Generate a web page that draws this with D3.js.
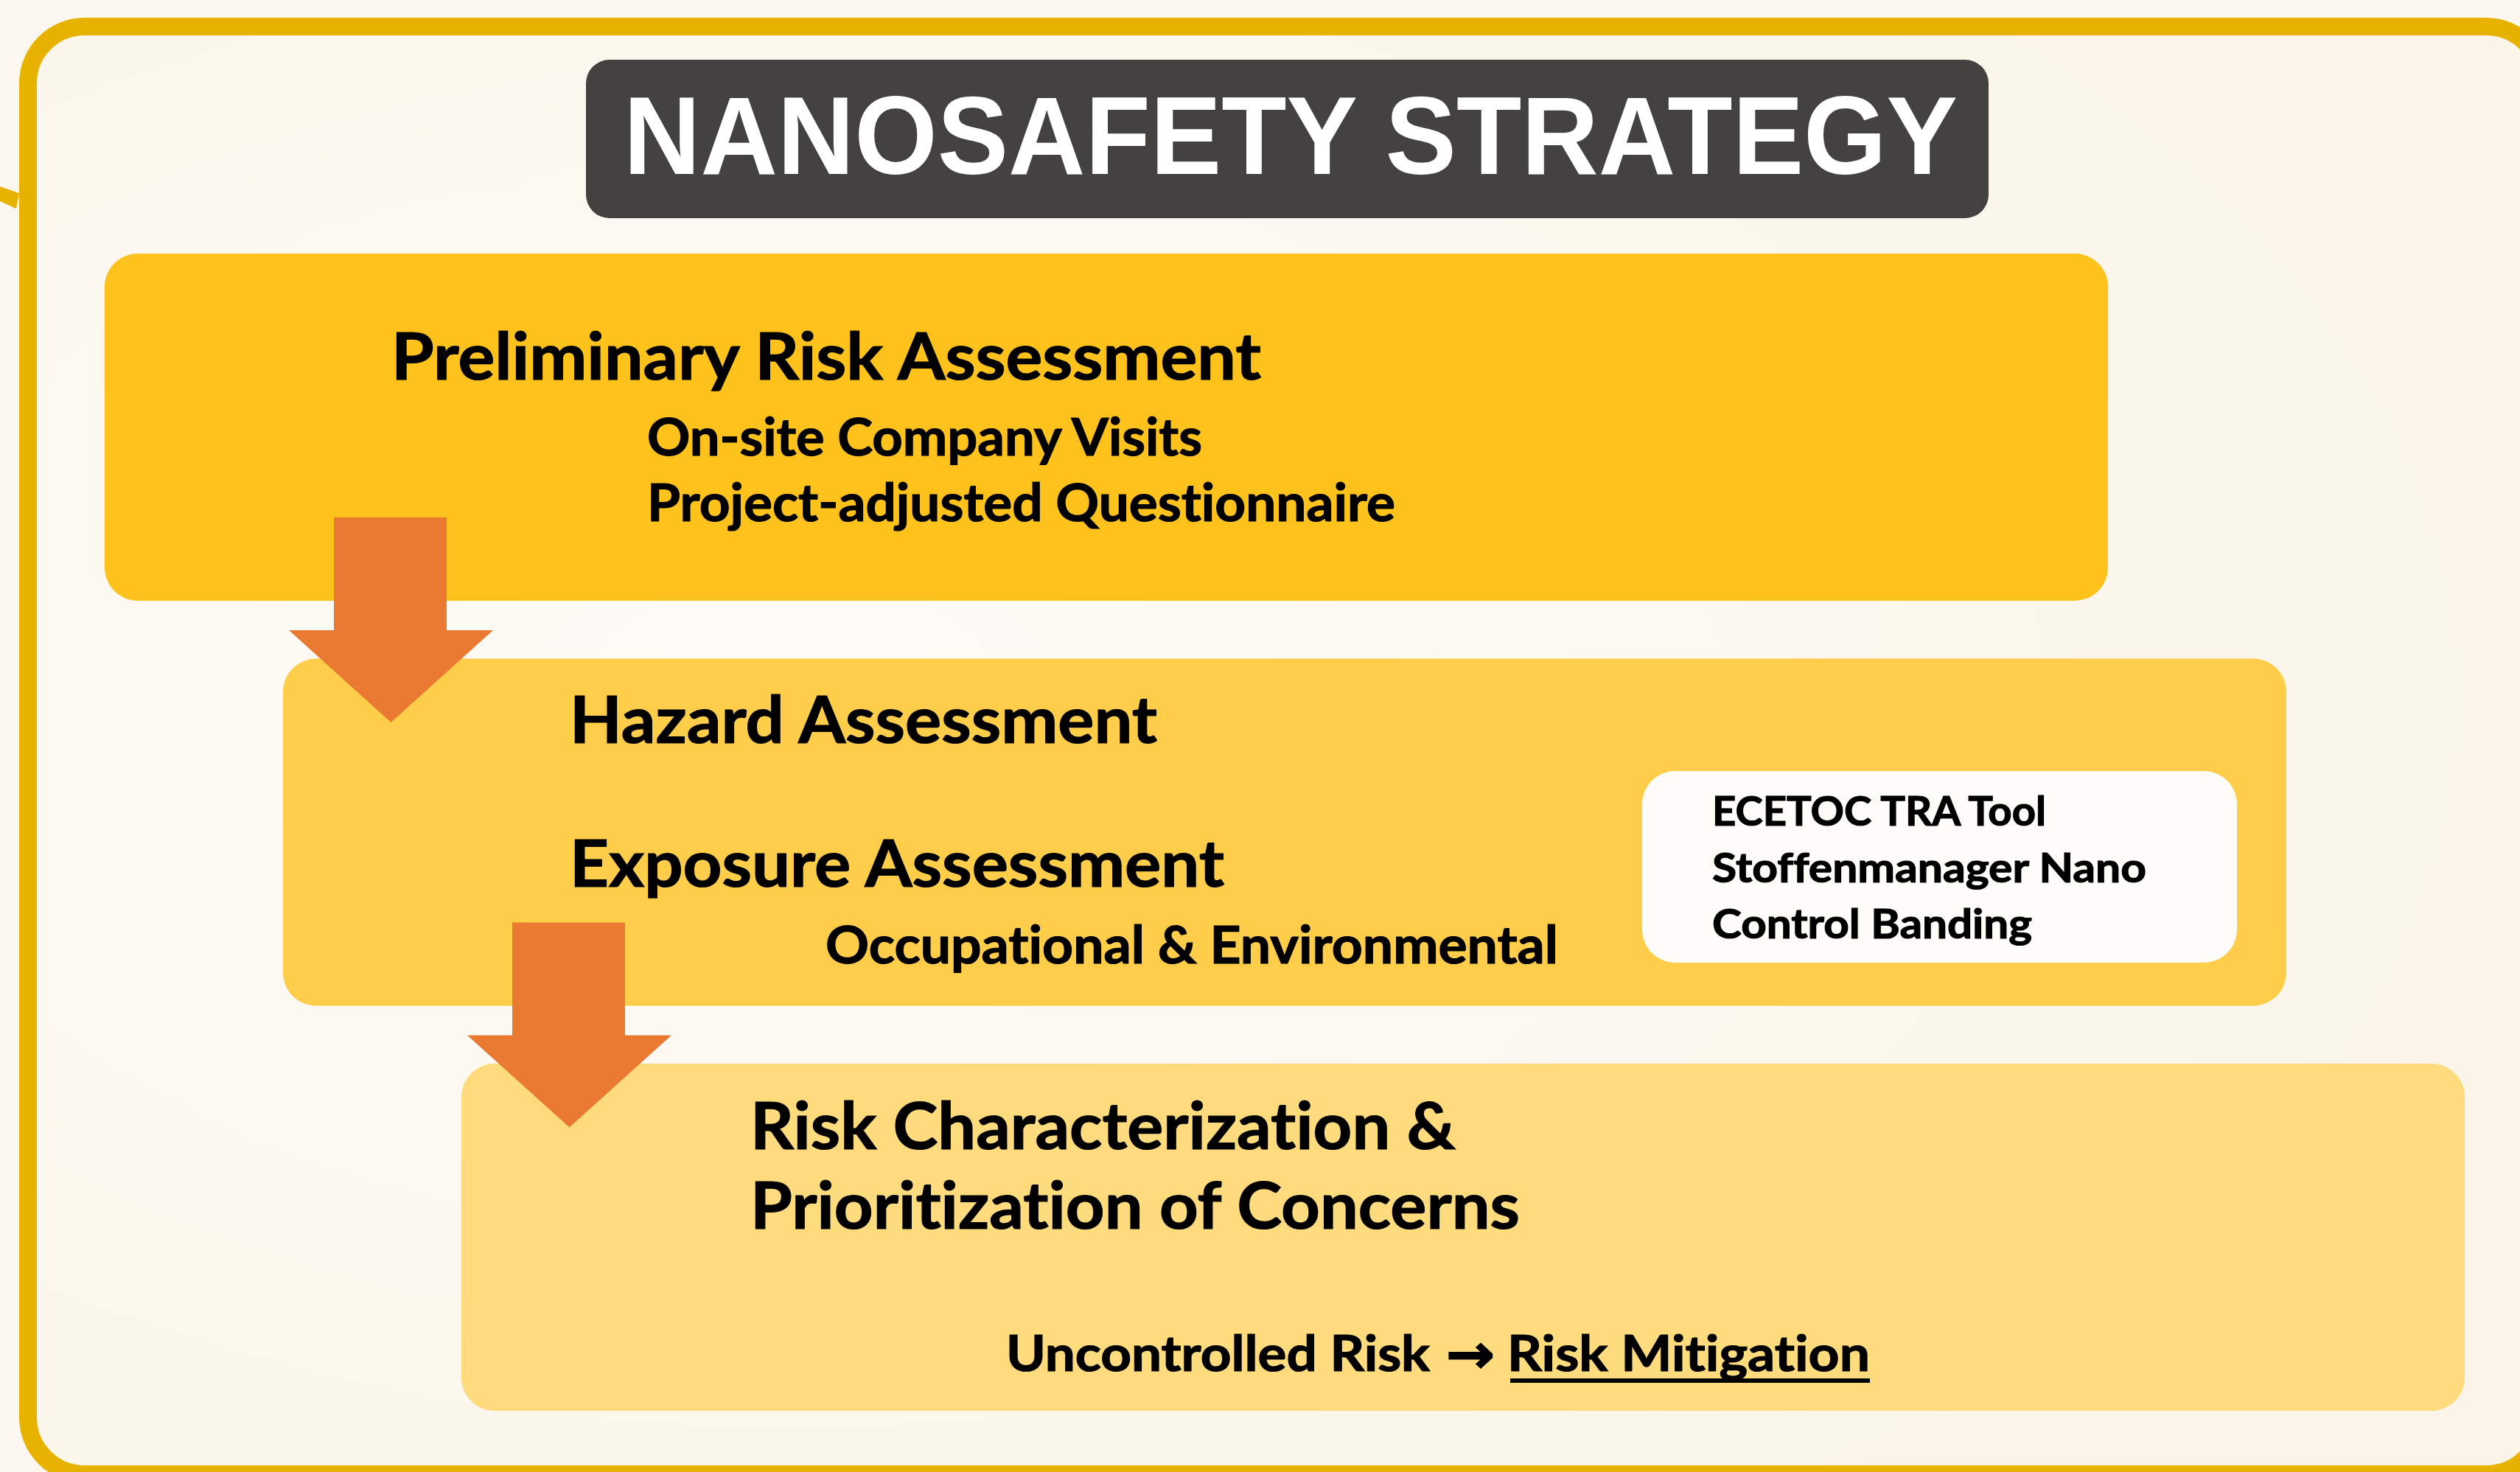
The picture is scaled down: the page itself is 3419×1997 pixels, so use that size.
<!DOCTYPE html>
<html><head><meta charset="utf-8">
<script src="https://cdn.jsdelivr.net/npm/d3@7"></script>
<style>
html,body{margin:0;padding:0;background:#fcf8ef;overflow:hidden}
text{font-variant-ligatures:none;font-feature-settings:"liga" 0,"clig" 0;}
</style>
</head><body>
<script>
// ---------- DATA ----------
const titleText = ["NANOSAFETY STRATEGY"];
const stageHeadings = [
  ["Preliminary Risk Assessment"],
  ["Hazard Assessment", "Exposure Assessment"],
  ["Risk Characterization &", "Prioritization of Concerns"]
];
const stageDetails = [
  ["On-site Company Visits", "Project-adjusted Questionnaire"],
  ["Occupational & Environmental"],
  []
];
const toolItems = ["ECETOC TRA Tool", "Stoffenmanager Nano", "Control Banding"];
const outcomeFrom = ["Uncontrolled Risk"];
const outcomeArrow = ["\u2192"];
const outcomeTo = ["Risk Mitigation"];

// ---------- STYLE / LAYOUT ----------
const W = 3419, H = 1997;
const stageColors = ["#fec21c", "#fecd4a", "#fedc7e"];
const FONT = "Lato, 'Open Sans', 'Noto Sans', sans-serif";
const stageIdx = d3.range(stageHeadings.length);
const xStage = d3.scaleLinear().domain([0, 2]).range([142, 626]);
const yStage = d3.scaleLinear().domain([0, 2]).range([344, 1443]);
const boxW = 2718, boxH = 471, boxR = 45;
const headingLayout = [
  {x: 389, y: [171], w: [1180]},
  {x: 389, y: [114, 309], w: [797, 888]},
  {x: 392, y: [116, 224], w: [957, 1044]}
];
const detailLayout = [
  {x: 736, y: [274, 363], w: [753, 1015]},
  {x: 736, y: [413], w: [994]},
  {x: 0, y: [], w: []}
];
const toolLayout = {box: [2228, 1046, 807, 260], x: 2323, y: [1120, 1197, 1273], w: [453, 589, 434]};

const svg = d3.select("body").append("svg")
  .attr("width", W).attr("height", H)
  .style("display", "block");

// background
svg.append("rect").attr("width", W).attr("height", H).attr("fill", "#fcf8ef");
const grad = svg.append("defs").append("radialGradient").attr("id", "bgg")
  .attr("cx", "30%").attr("cy", "45%").attr("r", "70%");
grad.append("stop").attr("offset", "0%").attr("stop-color", "#fefcf7");
grad.append("stop").attr("offset", "100%").attr("stop-color", "#fbf5e9");
svg.append("rect").attr("x", 50).attr("y", 48).attr("width", W).attr("height", H)
  .attr("fill", "url(#bgg)");

// stray tab on left edge
svg.append("path")
  .attr("d", d3.line()([[0, 253], [26, 262], [22, 283], [0, 273]]) + "Z")
  .attr("fill", "#e8b200");

// frame
svg.append("rect")
  .attr("x", 38).attr("y", 36).attr("width", 3412).attr("height", 1964)
  .attr("rx", 77).attr("ry", 77)
  .attr("fill", "none").attr("stroke", "#e8b200").attr("stroke-width", 24);

// title box
svg.append("rect")
  .attr("x", 795).attr("y", 81).attr("width", 1903).attr("height", 215)
  .attr("rx", 32).attr("fill", "#434240");
svg.append("text")
  .attr("x", 846).attr("y", 236)
  .attr("font-family", "'Liberation Sans', Arial, sans-serif")
  .attr("font-weight", 700).attr("font-size", 150)
  .attr("fill", "#ffffff")
  .attr("textLength", 1810).attr("lengthAdjust", "spacingAndGlyphs")
  .text(titleText[0]);

// stage boxes
const stages = svg.selectAll("g.stage").data(stageIdx).join("g")
  .attr("class", "stage")
  .attr("transform", i => `translate(${xStage(i)},${yStage(i)})`);
stages.append("rect")
  .attr("width", boxW).attr("height", boxH)
  .attr("rx", boxR).attr("ry", boxR)
  .attr("fill", i => stageColors[i]);

const darkText = sel => sel.attr("font-family", FONT).attr("font-weight", 700)
  .attr("fill", "#000").attr("stroke", "#000").attr("stroke-width", 1.2)
  .attr("lengthAdjust", "spacingAndGlyphs");

// headings
stages.each(function(i) {
  const g = d3.select(this);
  const hl = headingLayout[i];
  stageHeadings[i].forEach((t, k) => {
    g.append("text").attr("x", hl.x).attr("y", hl.y[k])
      .call(darkText).attr("font-size", 88)
      .attr("textLength", hl.w[k])
      .text(t);
  });
  const dl = detailLayout[i];
  stageDetails[i].forEach((t, k) => {
    g.append("text").attr("x", dl.x).attr("y", dl.y[k])
      .call(darkText).attr("font-size", 70)
      .attr("textLength", dl.w[k])
      .text(t);
  });
});

// tool box
const tb = toolLayout.box;
svg.append("rect").attr("x", tb[0]).attr("y", tb[1]).attr("width", tb[2]).attr("height", tb[3])
  .attr("rx", 45).attr("ry", 45).attr("fill", "#fefcf8");
svg.selectAll("text.tool").data(toolItems).join("text")
  .attr("class", "tool")
  .attr("x", toolLayout.x).attr("y", (d, k) => toolLayout.y[k])
  .call(darkText).attr("font-size", 56)
  .attr("textLength", (d, k) => toolLayout.w[k])
  .text(d => d);

// arrows between stages
const arrowPath = i => {
  const bx = xStage(i), by = yStage(i);
  return d3.line()([
    [bx + 311, by + 358], [bx + 464, by + 358], [bx + 464, by + 511],
    [bx + 527, by + 511], [bx + 388.5, by + 636], [bx + 250, by + 511],
    [bx + 311, by + 511]
  ]) + "Z";
};
svg.selectAll("path.arrow").data(stageIdx.slice(0, -1)).join("path")
  .attr("class", "arrow").attr("d", arrowPath).attr("fill", "#ea7931");

// outcome line
svg.append("text").attr("x", 1365).attr("y", 1860)
  .call(darkText).attr("font-size", 67)
  .attr("textLength", 575)
  .text(outcomeFrom[0]);
svg.append("text").attr("x", 1962).attr("y", 1862)
  .attr("font-family", "'DejaVu Sans', sans-serif").attr("font-weight", 700).attr("font-size", 72)
  .attr("stroke", "#000").attr("stroke-width", 2)
  .attr("textLength", 66).attr("lengthAdjust", "spacingAndGlyphs")
  .text(outcomeArrow[0]);
const mit = svg.append("text").attr("x", 2045).attr("y", 1860)
  .call(darkText).attr("font-size", 67)
  .attr("textLength", 492)
  .text(outcomeTo[0]);
const mb = mit.node().getBBox();
svg.append("rect").attr("x", mb.x + 4).attr("y", 1870).attr("width", mb.width - 4).attr("height", 6)
  .attr("fill", "#000");
</script>
</body></html>
